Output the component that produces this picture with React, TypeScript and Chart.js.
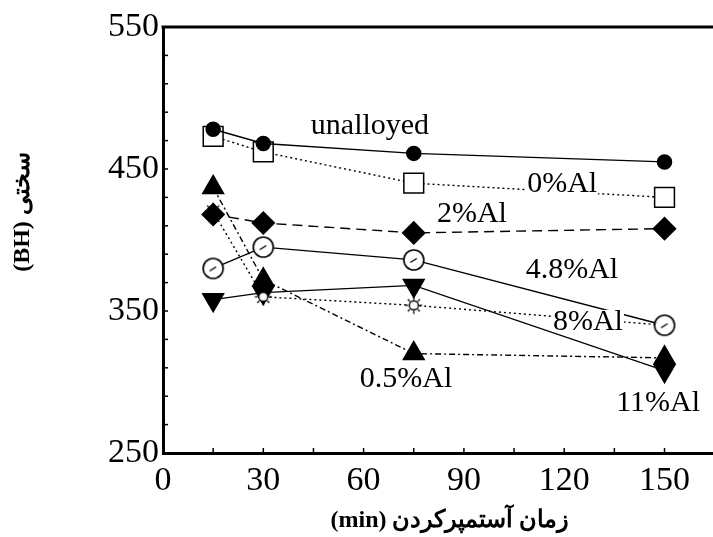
import { useEffect, useRef } from 'react';
import { Chart, registerables } from 'chart.js';

Chart.register(...registerables);

// ---- data ----
const times = [15, 30, 75, 150];
const unalloyed = [478, 468, 461, 455];
const al0 = [473, 462, 440, 430];
const al05 = [437, 372, 320, 317];
const al2 = [418, 412, 405, 408];
const al48 = [380, 395, 386, 340];
const al8 = [420, 360, 354, 340];
const al11 = [358, 363, 368, 308];

const xTickLabels = [0, 30, 60, 90, 120, 150];
const yTickLabels = [250, 350, 450, 550];

const noteTexts = ['unalloyed', '0%Al', '2%Al', '4.8%Al', '8%Al', '0.5%Al', '11%Al'];
const noteX = [61.9, 119.4, 92.4, 122.3, 127.1, 72.7, 148.1];
const noteY = [481, 440, 419, 379.6, 343, 302.8, 286];

const xTitle = '(min) زمان آستمپرکردن';
const yTitle = '(BH) سختی';

const SERIF = "'Liberation Serif', 'Times New Roman', 'DejaVu Serif', serif";

function makeRing(): HTMLCanvasElement {
  const c = document.createElement('canvas');
  c.width = 26; c.height = 26;
  const g = c.getContext('2d')!;
  g.fillStyle = '#fff'; g.strokeStyle = '#000'; g.lineWidth = 1.6;
  g.beginPath(); g.arc(13, 13, 10, 0, Math.PI * 2); g.fill(); g.stroke();
  g.lineWidth = 1.4;
  g.beginPath(); g.moveTo(9.5, 15.5); g.lineTo(16, 11.5); g.stroke();
  return c;
}

function makeSun(): HTMLCanvasElement {
  const c = document.createElement('canvas');
  c.width = 20; c.height = 20;
  const g = c.getContext('2d')!;
  g.fillStyle = '#fff'; g.strokeStyle = '#000'; g.lineWidth = 1.3;
  g.beginPath(); g.arc(10, 10, 4.5, 0, Math.PI * 2); g.fill(); g.stroke();
  for (let k = 0; k < 8; k++) {
    const a = (k * Math.PI) / 4;
    g.beginPath();
    g.moveTo(10 + Math.cos(a) * 5.5, 10 + Math.sin(a) * 5.5);
    g.lineTo(10 + Math.cos(a) * 8.5, 10 + Math.sin(a) * 8.5);
    g.stroke();
  }
  return c;
}

const decorPlugin = {
  id: 'decor',
  afterDatasetsDraw(chart: any) {
    const { ctx, scales } = chart;
    const x = scales.x, y = scales.y;
    ctx.save();
    ctx.font = `30px ${SERIF}`;
    ctx.textAlign = 'center';
    ctx.textBaseline = 'middle';
    noteTexts.forEach((t, i) => {
      const px = x.getPixelForValue(noteX[i]);
      const py = y.getPixelForValue(noteY[i]);
      const w = ctx.measureText(t).width;
      ctx.fillStyle = '#fff';
      ctx.fillRect(px - w / 2 - 1, py - 11, w + 2, 22);
      ctx.fillStyle = '#000';
      ctx.fillText(t, px, py + 1);
    });
    ctx.restore();
  },
  afterDraw(chart: any) {
    const { ctx, chartArea: a, scales } = chart;
    const x = scales.x, y = scales.y;
    ctx.save();
    ctx.strokeStyle = '#000';
    ctx.lineWidth = 3;
    ctx.beginPath();
    ctx.moveTo(a.left - 1.5, a.top);
    ctx.lineTo(a.right, a.top);
    ctx.stroke();
    ctx.lineWidth = 1.5;
    x.ticks.forEach((t: any) => {
      const px = x.getPixelForValue(t.value);
      ctx.beginPath(); ctx.moveTo(px, a.bottom); ctx.lineTo(px, a.bottom - 5); ctx.stroke();
    });
    y.ticks.forEach((t: any) => {
      const py = y.getPixelForValue(t.value);
      ctx.beginPath(); ctx.moveTo(a.left, py); ctx.lineTo(a.left + 5, py); ctx.stroke();
    });
    // axis titles
    ctx.fillStyle = '#000';
    ctx.font = `bold 24px ${SERIF}`;
    ctx.textAlign = 'center';
    ctx.textBaseline = 'middle';
    ctx.fillText(xTitle, 450, 521);
    ctx.translate(23, 212);
    ctx.rotate(-Math.PI / 2);
    ctx.fillText(yTitle, 0, 0);
    ctx.restore();
  },
};

export default function App() {
  const ref = useRef<HTMLCanvasElement>(null);
  useEffect(() => {
    const canvas = ref.current!;
    const ring = makeRing();
    const sun = makeSun();
    const mk = (label: string, vals: number[], extra: any) => ({
      label,
      data: times.map((t, i) => ({ x: t, y: vals[i] })),
      borderColor: '#000',
      backgroundColor: '#000',
      pointBorderColor: '#000',
      pointBackgroundColor: '#000',
      borderWidth: 1.4,
      pointBorderWidth: 1.5,
      tension: 0,
      ...extra,
    });
    const chart = new Chart(canvas, {
      type: 'line',
      data: {
        datasets: [
          mk('unalloyed', unalloyed, { pointStyle: 'circle', pointRadius: 7 }),
          mk('0%Al', al0, { pointStyle: 'rect', pointRadius: 14, pointBackgroundColor: '#fff', borderDash: [2, 3] }),
          mk('0.5%Al', al05, { pointStyle: 'triangle', pointRadius: 12, borderDash: [6, 3, 2, 3] }),
          mk('2%Al', al2, { pointStyle: 'rectRot', pointRadius: 11, borderDash: [10, 6] }),
          mk('4.8%Al', al48, { pointStyle: ring, pointRadius: 12 }),
          mk('8%Al', al8, { pointStyle: sun, pointRadius: 9, borderDash: [2, 3] }),
          mk('11%Al', al11, { pointStyle: 'triangle', pointRotation: 180, pointRadius: 12, borderWidth: 1.2 }),
        ],
      } as any,
      options: {
        animation: false,
        responsive: false,
        devicePixelRatio: 1,
        layout: { autoPadding: false, padding: { top: 27, left: 0, right: 0, bottom: 0 } },
        plugins: { legend: { display: false }, tooltip: { enabled: false } },
        elements: { line: { tension: 0 } },
        scales: {
          x: {
            type: 'linear',
            min: 0,
            max: 164.5,
            grid: { display: false, drawTicks: false },
            border: { display: true, color: '#000', width: 3 },
            ticks: {
              stepSize: 15,
              includeBounds: false,
              autoSkip: false,
              maxRotation: 0,
              padding: 8,
              color: '#000',
              font: { family: SERIF, size: 34 },
              callback: (v: any) => (xTickLabels.includes(Number(v)) ? String(v) : ''),
            },
            afterFit: (s: any) => { s.height = 84; s.paddingRight = 0; s.paddingLeft = 0; },
          },
          y: {
            type: 'linear',
            min: 250,
            max: 550,
            grid: { display: false, drawTicks: false },
            border: { display: true, color: '#000', width: 3 },
            ticks: {
              stepSize: 20,
              autoSkip: false,
              padding: 4,
              color: '#000',
              font: { family: SERIF, size: 34 },
              callback: (v: any) => (yTickLabels.includes(Number(v)) ? String(v) : ''),
            },
            afterFit: (s: any) => { s.width = 163; },
          },
        },
      } as any,
      plugins: [decorPlugin],
    });
    return () => chart.destroy();
  }, []);
  return (
    <div style={{ position: 'fixed', left: 0, top: 0, width: 713, height: 537, background: '#fff', overflow: 'hidden' }}>
      <canvas ref={ref} width={713} height={537} style={{ display: 'block', width: 713, height: 537 }} />
    </div>
  );
}
